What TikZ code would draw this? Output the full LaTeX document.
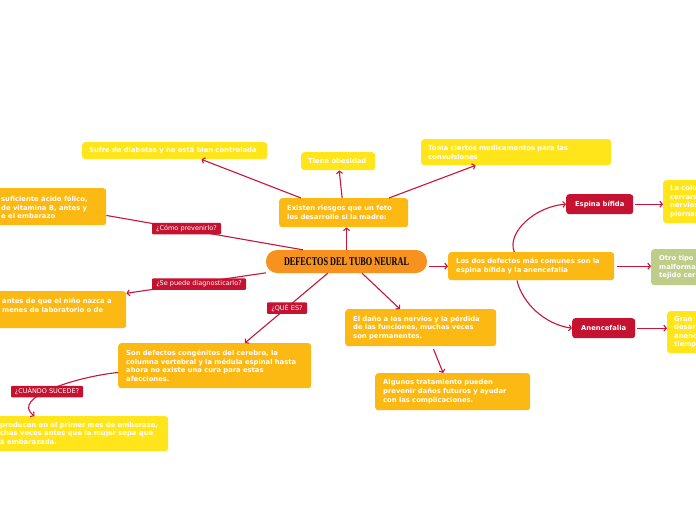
\documentclass[tikz,border=0pt]{standalone}
\usepackage{fontspec}
\setmainfont{DejaVu Sans}
\newfontfamily\titlefont{Liberation Serif}
\usetikzlibrary{arrows.meta}
\definecolor{cOrange}{HTML}{FDB913}
\definecolor{cYellow}{HTML}{FFE51A}
\definecolor{cRed}{HTML}{C41230}
\definecolor{cLine}{HTML}{C8163A}
\definecolor{cCenter}{HTML}{F7921E}
\definecolor{cGreen}{HTML}{BFCD8A}
\tikzset{
  base/.style={rounded corners=3pt, inner xsep=8pt, inner ysep=0pt, text=white,
    font=\fontsize{6.8}{8.6}\selectfont\bfseries, align=left, anchor=north west},
  obox/.style={base, fill=cOrange},
  ybox/.style={base, fill=cYellow},
  gbox/.style={base, fill=cGreen},
  rbox/.style={base, fill=cRed, align=center},
  sz/.style n args={3}{minimum width=#1pt, minimum height=#2pt, text width=#3pt},
  txt/.style={inner sep=0pt, text=white, font=\fontsize{6.8}{8.6}\selectfont\bfseries, align=left, anchor=north west},
  lbl/.style={fill=cRed, text=white, font=\fontsize{6.5}{7}\selectfont, rounded corners=1pt,
    inner sep=0pt, minimum height=11.5pt, anchor=center},
  con/.style={draw=cLine, line width=1.1pt, -{Straight Barb[length=2.5pt,width=6pt]}},
  plain/.style={draw=cLine, line width=1.1pt},
  title/.style={fill=cCenter, rounded corners=11pt, minimum width=161pt, minimum height=23pt, inner sep=0pt, text=black}
}
\begin{document}
\begin{tikzpicture}[x=1pt,y=-1pt]
\useasboundingbox (0,0) rectangle (696,520);
\fill[white] (0,0) rectangle (696,520);
\clip (0,0) rectangle (696,520);

% center
\node[title] (c) at (346.5,261.5) {\resizebox{125pt}{7.8pt}{\titlefont\bfseries DEFECTOS DEL TUBO NEURAL}};

% upper branch
\node[obox, sz={129}{29}{113}] (exist) at (279,198) {Existen riesgos que un feto\\los desarrolle si la madre:};
\node[ybox, sz={185}{17}{171}, inner xsep=7pt] (diab) at (82,142) {Sufre de diabetes y no está bien controlada};
\node[ybox, sz={74}{18}{60}, inner xsep=7pt] (obes) at (301,152) {Tiene obesidad};
\node[ybox, sz={190}{26}{176}, inner xsep=7pt] (toma) at (421,139) {Toma ciertos medicamentos para las\\convulsiones};

% left clipped boxes
\node[obox, sz={166}{37}{150}] (tomar) at (-60,188) {};
\node[txt] (tomarT) at (1,196) {suficiente ácido fólico,\\de vitamina B, antes y\\e el embarazo};
\node[obox, sz={186}{37}{170}] (diag) at (-60,291) {};
\node[txt] (diagT) at (2,298) {antes de que el niño nazca a\\menes de laboratorio o de};
\node[ybox, sz={228}{35}{212}] (when) at (-60,416) {};
\node[txt] (whenT) at (0,422) {producen en el primer mes de embarazo,\\chas veces antes que la mujer sepa que\\á embarazada.};

% lower boxes
\node[obox, sz={193}{45}{177}] (what) at (118,343) {Son defectos congénitos del cerebro, la\\columna vertebral y la médula espinal hasta\\ahora no existe una cura para estas\\afecciones.};
\node[obox, sz={151}{37}{135}] (dano) at (345,309) {El daño a los nervios y la pérdida\\de las funciones, muchas veces\\son permanentes.};
\node[obox, sz={155}{37}{139}] (trat) at (375,373) {Algunos tratamiento pueden\\prevenir daños futuros y ayudar\\con las complicaciones.};

% right branch
\node[obox, sz={166}{28}{150}] (dos) at (448,252) {Los dos defectos más comunes son la\\espina bífida y la anencefalia};
\node[rbox, sz={67}{20}{51}] (esp) at (566,194) {Espina bífida};
\node[rbox, sz={63}{20}{47}] (anen) at (572,318) {Anencefalia};
\node[ybox, sz={70}{43}{56}, inner xsep=7pt] (colu) at (663,180) {La colu\\cerrars\\nervios\\piernas};
\node[gbox, sz={70}{36}{54}] (otro) at (651,249) {Otro tipo\\malforma\\tejido cer};
\node[ybox, sz={60}{42}{46}, inner xsep=7pt] (gran) at (667,311) {Gran\\desar\\anenc\\tiemp};

% connectors
\draw[con] (exist.161) -- (diab.-18);
\draw[con] (exist.96) -- (obes.-84);
\draw[con] (exist.18) -- (toma.198);
\draw[con] (c.north) -- (c.north |- exist.south);
\draw[plain] (c.165.5) -- (tomar.-6.5);
\draw[con] (c.188.5) -- (diag.10);
\draw[con] (c.212) -- (what.37);
\draw[con] (c.323) -- (dano.138);
\draw[con, shorten <=3pt] (dano.-58) -- (trat.117);
\draw[con, shorten <=2pt] (dos.west -| c.east) -- (dos.west);
\draw[con] (dos.140.5) .. controls +(-8,-20) and +(-30,2) .. (esp.west);
\draw[con] (dos.225) .. controls +(5,22) and +(-28,-4) .. (anen.west);
\draw[con, shorten <=2pt] (esp.east) -- (esp.east -| colu.west);
\draw[con, shorten <=3pt] (dos.east) -- (dos.east -| otro.west);
\draw[con, shorten <=2pt] (anen.east) -- (anen.east -| gran.west);
\draw[con] (what.184.4) .. controls (75,377) and (10,398) .. (when.138.6);

% labels
\node[lbl, minimum width=69pt] (lprev) at (186.5,228.5) {¿Cómo prevenirlo?};
\node[lbl, minimum width=94pt] (ldiag) at (199,284) {¿Se puede diagnosticarlo?};
\node[lbl, minimum width=40pt] (lque) at (287,308) {¿QUÉ ES?};
\node[lbl, minimum width=72pt] (lwhen) at (47,391.5) {¿CUÁNDO SUCEDE?};
\end{tikzpicture}
\end{document}
